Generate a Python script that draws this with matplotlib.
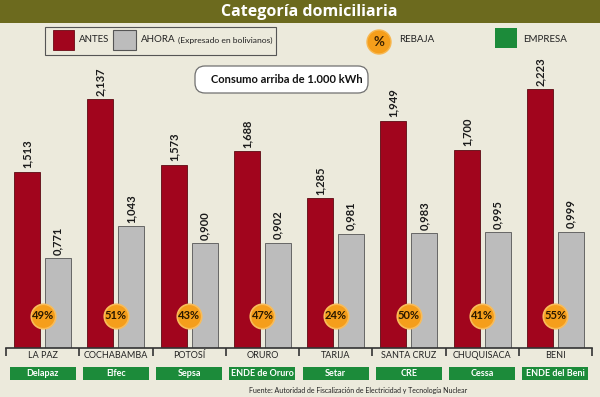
import matplotlib
matplotlib.use("Agg")
import matplotlib.pyplot as plt
from matplotlib.patches import Rectangle, Circle, FancyBboxPatch
from matplotlib.transforms import blended_transform_factory

# ── Data ──────────────────────────────────────────────────────────────
departamentos = ["LA PAZ", "COCHABAMBA", "POTOSÍ", "ORURO", "TARIJA",
                 "SANTA CRUZ", "CHUQUISACA", "BENI"]
empresas = ["Delapaz", "Elfec", "Sepsa", "ENDE de Oruro", "Setar",
            "CRE", "Cessa", "ENDE del Beni"]
antes = [1.513, 2.137, 1.573, 1.688, 1.285, 1.949, 1.700, 2.223]
ahora = [0.771, 1.043, 0.900, 0.902, 0.981, 0.983, 0.995, 0.999]
rebaja = [49, 51, 43, 47, 24, 50, 41, 55]

BG = "#ECEADC"
RED = "#A1051D"
GRAY = "#BCBCBC"
GREEN = "#1C8B3A"
ORANGE = "#F59E1B"
OLIVE = "#6C6A1E"
NARROW = ["Lato", "DejaVu Sans"]

W, H = 600, 397
fig = plt.figure(figsize=(W / 100, H / 100), dpi=100, facecolor=BG)

# overlay in pixel coordinates for the decorations
deco = fig.add_axes([0, 0, 1, 1], zorder=0)
deco.set_xlim(0, W)
deco.set_ylim(H, 0)
deco.axis("off")

# ── Title bar ─────────────────────────────────────────────────────────
deco.add_patch(Rectangle((0, 0), W, 23, fc=OLIVE, ec="none"))
deco.text(309, 11.5, "Categoría domiciliaria", color="white", fontsize=11.5,
          fontweight="bold", family=["Open Sans", "DejaVu Sans"],
          ha="center", va="center")

# ── Legend ────────────────────────────────────────────────────────────
deco.add_patch(Rectangle((45, 27), 231, 28, fc="none", ec="#555555", lw=0.8))
deco.add_patch(Rectangle((53, 30), 21, 20, fc=RED, ec="#6a0a14", lw=0.6))
deco.text(79, 40, "ANTES", fontsize=7, family=NARROW, va="center", color="#222")
deco.add_patch(Rectangle((113, 30), 23, 20, fc=GRAY, ec="#555555", lw=0.8))
deco.text(141, 40, "AHORA", fontsize=7, family=NARROW, va="center", color="#222")
deco.text(178, 40, "(Expresado en bolivianos)", fontsize=6.1, family=NARROW,
          va="center", color="#222")
deco.add_patch(Circle((379, 42), 12, fc=ORANGE, ec="#F7B750", lw=1))
deco.text(379, 42, "%", fontsize=9.5, fontweight="bold", family=NARROW,
          ha="center", va="center", color="#3a2000")
deco.text(399, 40, "REBAJA", fontsize=7, family=NARROW, va="center", color="#222")
deco.add_patch(Rectangle((495, 28), 22, 20, fc=GREEN, ec="none"))
deco.text(523, 40, "EMPRESA", fontsize=7, family=NARROW, va="center", color="#222")

# ── Subtitle box ──────────────────────────────────────────────────────
deco.add_patch(FancyBboxPatch((195, 66), 173, 27,
                              boxstyle="round,pad=0,rounding_size=10",
                              fc="white", ec="#707070", lw=0.9))
deco.text(287, 79.5, "Consumo arriba de 1.000 kWh", fontsize=8,
          fontweight="bold", family=NARROW, ha="center", va="center",
          color="#111")

# ── Bars ──────────────────────────────────────────────────────────────
base_px, top_px, left_px, right_px = 348, 60, 6, 592
ax = fig.add_axes([left_px / W, (H - base_px) / H,
                   (right_px - left_px) / W, (base_px - top_px) / H], zorder=1)
ax.patch.set_alpha(0)
ax.set_xlim(-0.5, len(departamentos) - 0.5)
ax.set_ylim(0, (base_px - top_px) / 116.5)

x = range(len(departamentos))
off, bw = 0.21, 0.355
b1 = ax.bar([i - off for i in x], antes, width=bw, color=RED,
            edgecolor="#5c0a12", linewidth=0.6)
b2 = ax.bar([i + off for i in x], ahora, width=bw, color=GRAY,
            edgecolor="#555555", linewidth=0.6)

for bars, vals in ((b1, antes), (b2, ahora)):
    for b, v in zip(bars, vals):
        ax.annotate(f"{v:.3f}".replace(".", ","),
                    (b.get_x() + b.get_width() / 2, b.get_height()),
                    xytext=(0, 2.5), textcoords="offset points", rotation=90,
                    ha="center", va="bottom", fontsize=8, fontweight="bold",
                    family=NARROW, color="#1a1a1a")

# percentage badges
circle_y = [0.275] * len(rebaja)
ax.scatter(list(x), circle_y, s=310, color=ORANGE, edgecolors="#F8BC5A",
           linewidths=1.2, zorder=3, clip_on=False)
for i, r in zip(x, rebaja):
    ax.text(i, circle_y[i], f"{r}%", fontsize=8, fontweight="bold",
            family=NARROW, ha="center", va="center", color="#2a1800", zorder=4)

# axis
for s in ("top", "right", "left"):
    ax.spines[s].set_visible(False)
ax.spines["bottom"].set_color("#333333")
ax.spines["bottom"].set_linewidth(1.2)
ax.set_yticks([])
ax.set_xticks(list(x))
ax.set_xticklabels(departamentos, fontsize=6.5, family=NARROW, color="#222")
ax.tick_params(axis="x", which="major", length=0, pad=2.5)
ax.set_xticks([i - 0.5 for i in range(len(departamentos) + 1)], minor=True)
ax.tick_params(axis="x", which="minor", length=6, width=1.2, color="#333333",
               direction="out")

# company boxes (x in data units, y in pixels)
trans = blended_transform_factory(ax.transData, deco.transData)
for i, e in zip(x, empresas):
    deco.add_patch(Rectangle((i - 0.45, 367), 0.9, 13, fc=GREEN, ec="none",
                             transform=trans))
    deco.text(i, 373.5, e, transform=trans, fontsize=6.5, fontweight="bold",
              family=NARROW, color="white", ha="center", va="center")

deco.text(467, 390, "Fuente: Autoridad de Fiscalización de Electricidad y "
          "Tecnología Nuclear", fontsize=5, family=NARROW, ha="right",
          va="center", color="#222")

fig.savefig("out.png", dpi=100, facecolor=BG)
